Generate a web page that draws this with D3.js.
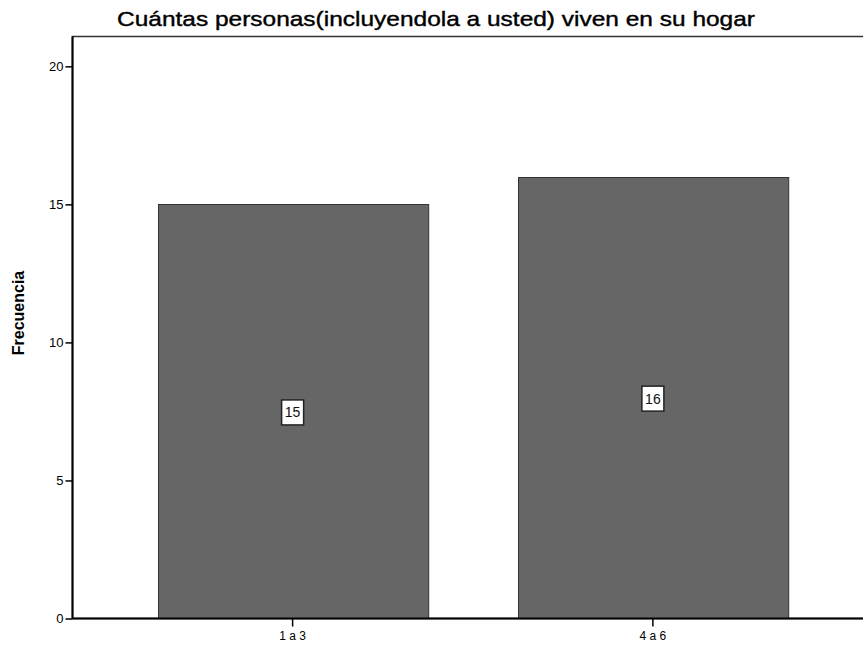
<!DOCTYPE html>
<html>
<head>
<meta charset="utf-8">
<script src="https://cdn.jsdelivr.net/npm/d3@7"></script>
<style>
  body { margin: 0; background: #fff; }
  svg { display: block; font-family: Arial, "Liberation Sans", sans-serif; }
</style>
</head>
<body>
<svg id="chart" width="863" height="649"></svg>
<script>
const categories = ["1 a 3", "4 a 6"];
const values = [15, 16];
const yTicks = [0, 5, 10, 15, 20];
const title = "Cuántas personas(incluyendola a usted) viven en su hogar";
const yLabel = "Frecuencia";

const svg = d3.select("#chart");
const pLeft = 72.5, pRight = 873, pTop = 36.5, pBottom = 618.5;

const x = d3.scaleBand().domain(categories).range([pLeft, pRight])
  .paddingInner(0.25).paddingOuter(0.236);
const y = d3.scaleLinear().domain([0, 21.08]).range([pBottom, pTop]);

// frame
svg.append("rect").attr("x", pLeft).attr("y", pTop)
  .attr("width", pRight - pLeft).attr("height", pBottom - pTop)
  .attr("fill", "#fff").attr("stroke", "#333").attr("stroke-width", 1.5);

// bars
svg.append("g").selectAll("rect").data(values).join("rect")
  .attr("x", (d, i) => Math.round(x(categories[i])) + 0.5)
  .attr("y", d => Math.round(y(d)) + 0.5)
  .attr("width", x.bandwidth())
  .attr("height", d => pBottom - Math.round(y(d)) - 0.5)
  .attr("fill", "#666666")
  .attr("stroke", "#333333")
  .attr("stroke-width", 1);

// value labels
const lab = svg.append("g").selectAll("g").data(values).join("g")
  .attr("transform", (d, i) => `translate(${x(categories[i]) + x.bandwidth() / 2},${(y(d) + pBottom) / 2 + 1})`);
lab.append("rect").attr("x", -11).attr("y", -12.5).attr("width", 22).attr("height", 25)
  .attr("fill", "#fff").attr("stroke", "#222").attr("stroke-width", 1.5);
lab.append("text").attr("text-anchor", "middle").attr("dy", "0.36em")
  .attr("font-size", 14).attr("fill", "#111").text(d => d);

// y axis
const yAxis = d3.axisLeft(y).tickValues(yTicks).tickSize(7).tickPadding(2).tickFormat(d3.format("d"));
const ga = svg.append("g").attr("transform", `translate(${pLeft},0)`).call(yAxis);
ga.select(".domain").remove();
ga.selectAll("line").attr("stroke", "#000").attr("stroke-width", 1.5);
ga.selectAll("text").attr("font-size", 13).attr("fill", "#000").attr("font-family", "Arial, 'Liberation Sans', sans-serif");

// x axis
const xAxis = d3.axisBottom(x).tickSize(8).tickPadding(5);
const gx = svg.append("g").attr("transform", `translate(0,${pBottom})`).call(xAxis);
gx.select(".domain").remove();
gx.selectAll("line").attr("stroke", "#000").attr("stroke-width", 1.5);
gx.selectAll("text").attr("font-size", 12).attr("fill", "#000").attr("font-family", "Arial, 'Liberation Sans', sans-serif");

// axis lines (thicker)
svg.append("line").attr("x1", pLeft).attr("x2", pRight).attr("y1", pBottom).attr("y2", pBottom)
  .attr("stroke", "#000").attr("stroke-width", 2);
svg.append("line").attr("x1", pLeft).attr("x2", pLeft).attr("y1", pTop).attr("y2", pBottom)
  .attr("stroke", "#000").attr("stroke-width", 2);

// title
svg.append("text").attr("x", 436).attr("y", 26).attr("text-anchor", "middle")
  .attr("font-size", 21)
  .attr("textLength", 638).attr("lengthAdjust", "spacingAndGlyphs")
  .attr("fill", "#000").attr("stroke", "#000").attr("stroke-width", 0.4)
  .text(title);

// y label
svg.append("text").attr("transform", "translate(24,313) rotate(-90)")
  .attr("text-anchor", "middle").attr("font-size", 16).attr("font-weight", "bold")
  .attr("fill", "#000").text(yLabel);
</script>
</body>
</html>
